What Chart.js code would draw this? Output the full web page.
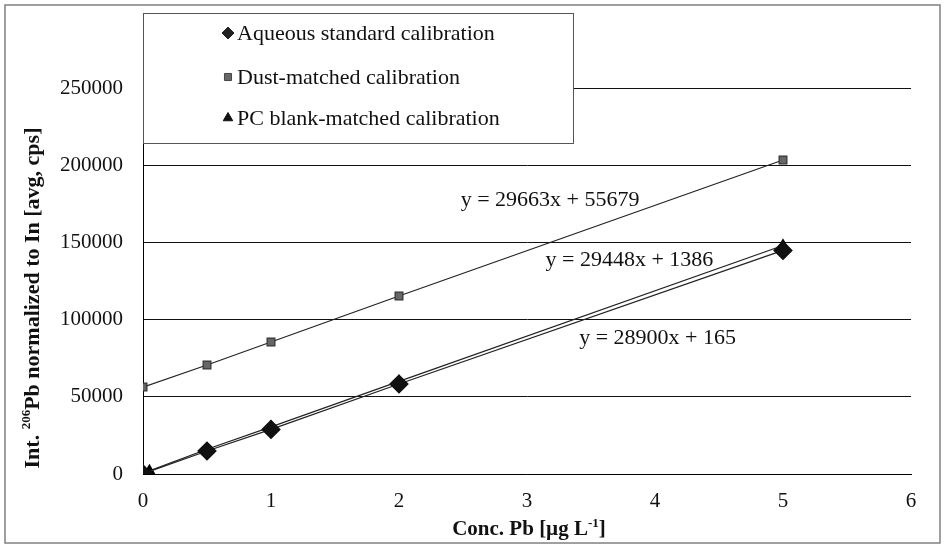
<!DOCTYPE html>
<html>
<head>
<meta charset="utf-8">
<script src="https://cdn.jsdelivr.net/npm/chart.js@4.4.0/dist/chart.umd.min.js"></script>
<style>
  html, body { margin: 0; padding: 0; background: #fff; }
  canvas { display: block; }
</style>
</head>
<body>
<canvas id="calChart" width="945" height="548"></canvas>
<script>
// data
const seriesNames = ['Aqueous standard calibration', 'Dust-matched calibration', 'PC blank-matched calibration'];
const aqueousX = [0, 0.5, 1, 2, 5];
const aqueousY = [165, 14900, 28900, 58300, 144800];
const dustX = [0, 0.5, 1, 2, 5];
const dustY = [56300, 70600, 85500, 115300, 203400];
const pcX = [0.05, 0.5, 1, 2, 5];
const pcY = [2000, 16000, 30500, 60000, 148000];
const xTicks = [0, 1, 2, 3, 4, 5, 6];
const yTicks = [0, 50000, 100000, 150000, 200000, 250000];
const equations = ['y = 29663x + 55679', 'y = 29448x + 1386', 'y = 28900x + 165'];

const SERIF = '"Liberation Serif", "Times New Roman", serif';

// where the equation texts sit (in axis units)
const eqAnchors = [
    { x: 3.18, y: 177500 },
    { x: 3.80, y: 138600 },
    { x: 4.02, y: 88100 }
];

function toPoints(xs, ys) {
    return xs.map((x, i) => ({ x: x, y: ys[i] }));
}

// draw text with superscript pieces, centred on 0,0 of the current transform
function drawRich(ctx, parts, size, bold) {
    const w = bold ? 'bold ' : '';
    let total = 0;
    parts.forEach(p => {
        ctx.font = w + (p.sup ? Math.round(size * 0.6) : size) + 'px ' + SERIF;
        p.w = ctx.measureText(p.t).width;
        total += p.w;
    });
    let x = -total / 2;
    parts.forEach(p => {
        ctx.font = w + (p.sup ? Math.round(size * 0.6) : size) + 'px ' + SERIF;
        ctx.fillText(p.t, x, p.sup ? -size * 0.3 : 0);
        x += p.w;
    });
}

const extras = {
    id: 'extras',
    afterDraw(chart) {
        const ctx = chart.ctx;
        const xs = chart.scales.x, ys = chart.scales.y;
        ctx.save();

        // outer frame
        ctx.strokeStyle = '#808080';
        ctx.lineWidth = 1.5;
        ctx.strokeRect(5, 5, 935, 538);

        // trend equations
        ctx.fillStyle = '#111';
        ctx.font = '22px ' + SERIF;
        ctx.textAlign = 'center';
        ctx.textBaseline = 'middle';
        equations.forEach((t, i) => {
            ctx.fillText(t, xs.getPixelForValue(eqAnchors[i].x), ys.getPixelForValue(eqAnchors[i].y));
        });

        // axis titles
        ctx.textAlign = 'left';
        ctx.save();
        ctx.translate(529, 530);
        drawRich(ctx, [{ t: 'Conc. Pb [\u00b5g L' }, { t: '-1', sup: true }, { t: ']' }], 21, true);
        ctx.restore();

        ctx.save();
        ctx.translate(33, 298);
        ctx.rotate(-Math.PI / 2);
        drawRich(ctx, [{ t: 'Int. ' }, { t: '206', sup: true }, { t: 'Pb normalized to In [avg, cps]' }], 22, true);
        ctx.restore();

        // legend box
        ctx.fillStyle = '#fff';
        ctx.fillRect(143, 13, 430, 130);
        ctx.strokeStyle = '#555';
        ctx.lineWidth = 1;
        ctx.strokeRect(143.5, 13.5, 430, 130);

        const rows = [33, 77, 118];
        const marks = [
            { pointStyle: 'rectRot', radius: 6, fill: '#222', stroke: '#222' },
            { pointStyle: 'rect', radius: 5, fill: '#666', stroke: '#444' },
            { pointStyle: 'triangle', radius: 5.5, fill: '#111', stroke: '#111' }
        ];
        ctx.font = '22px ' + SERIF;
        ctx.textBaseline = 'middle';
        seriesNames.forEach((name, i) => {
            const m = marks[i];
            ctx.fillStyle = m.fill;
            ctx.strokeStyle = m.stroke;
            ctx.lineWidth = 1;
            Chart.helpers.drawPoint(ctx, { pointStyle: m.pointStyle, radius: m.radius, rotation: 0, borderWidth: 1 }, 228, rows[i]);
            ctx.fillStyle = '#111';
            ctx.textAlign = 'left';
            ctx.fillText(name, 237, rows[i] + 1);
        });

        ctx.restore();
    }
};

new Chart(document.getElementById('calChart').getContext('2d'), {
    type: 'scatter',
    data: {
        datasets: [{
            label: seriesNames[0],
            data: toPoints(aqueousX, aqueousY),
            showLine: true,
            borderColor: '#222',
            borderWidth: 1.2,
            pointStyle: 'rectRot',
            pointRadius: 9,
            pointBackgroundColor: '#111',
            pointBorderColor: '#111'
        }, {
            label: seriesNames[1],
            data: toPoints(dustX, dustY),
            showLine: true,
            borderColor: '#222',
            borderWidth: 1.2,
            pointStyle: 'rect',
            pointRadius: 5.5,
            pointBackgroundColor: '#666',
            pointBorderColor: '#333'
        }, {
            label: seriesNames[2],
            data: toPoints(pcX, pcY),
            showLine: true,
            borderColor: '#222',
            borderWidth: 1.2,
            pointStyle: 'triangle',
            pointRadius: 6,
            pointBackgroundColor: '#000',
            pointBorderColor: '#000'
        }]
    },
    options: {
        responsive: false,
        animation: false,
        layout: { padding: { top: 88, right: 34, left: 0, bottom: 0 } },
        plugins: {
            legend: { display: false },
            tooltip: { enabled: false }
        },
        scales: {
            x: {
                type: 'linear',
                min: 0,
                max: 6,
                afterFit: s => { s.height = 74; },
                afterBuildTicks: s => { s.ticks = xTicks.map(v => ({ value: v })); },
                grid: { display: false, drawTicks: false },
                border: { display: true, color: '#000', width: 1 },
                ticks: {
                    padding: 15,
                    color: '#111',
                    font: { family: SERIF, size: 21 }
                }
            },
            y: {
                min: 0,
                max: 250000,
                afterFit: s => { s.width = 143; },
                afterBuildTicks: s => { s.ticks = yTicks.map(v => ({ value: v })); },
                grid: { color: '#111', lineWidth: 1, drawTicks: false },
                border: { display: true, color: '#000', width: 1 },
                ticks: {
                    padding: 20,
                    color: '#111',
                    font: { family: SERIF, size: 21 },
                    callback: v => String(v)
                }
            }
        }
    },
    plugins: [extras]
});
</script>
</body>
</html>
